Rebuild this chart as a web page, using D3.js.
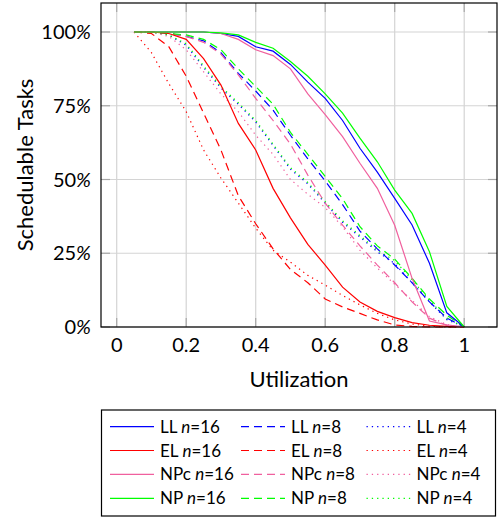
<!DOCTYPE html>
<html>
<head>
<meta charset="utf-8">
<script src="https://cdn.jsdelivr.net/npm/d3@7"></script>
<style>
    body { margin: 0; background: #fff; }
    text { font-family: Lato, "Open Sans", sans-serif; fill: #000; }
</style>
</head>
<body>
<svg id="chart" width="503" height="517"></svg>
<script>
// utilization steps
const utilization = [0.05, 0.1, 0.15, 0.2, 0.25, 0.3, 0.35, 0.4, 0.45, 0.5,
    0.55, 0.6, 0.65, 0.7, 0.75, 0.8, 0.85, 0.9, 0.95, 1.0];

// schedulable tasks in %
const llN16  = [100, 100, 100, 100, 100, 99.5, 98.5, 95, 93.5, 89, 83, 77.5, 70, 60.6, 52.5, 43.6, 34.6, 21.6, 4.8, 0];
const elN16  = [100, 100, 99.5, 97.5, 91, 82, 69, 60, 47, 37, 28, 21, 13.5, 8.5, 5.3, 3.2, 1.5, 0.6, 0.2, 0];
const npcN16 = [100, 100, 100, 100, 100, 99.5, 97.5, 94, 92, 87.5, 79, 72, 64.5, 55.5, 47, 34.5, 16.5, 2, 0.7, 0];
const npN16  = [100, 100, 100, 100, 100, 99.7, 99, 96.5, 94.5, 90, 85, 79, 72.5, 64, 56, 46.4, 38.5, 25.5, 7, 0];

const llN8  = [100, 100, 99.5, 98.5, 97, 93, 86, 80, 73.5, 65, 57, 49.5, 41.5, 32.5, 26.5, 21, 15, 8.5, 3, 0];
const elN8  = [100, 99.5, 95, 85, 72.5, 60, 44.5, 35, 26.5, 19.5, 15, 9.5, 6.8, 4.6, 2.4, 0.7, 0.2, 0, 0, 0];
const npcN8 = [100, 100, 99.5, 98.5, 96.5, 92.5, 85.5, 77.5, 70, 62, 51.5, 42, 34.5, 27.5, 21, 15, 8.5, 3, 0.5, 0];
const npN8  = [100, 100, 99.5, 99, 97.5, 94, 87.5, 81.5, 75.5, 66, 58.5, 51, 43.5, 34, 27.5, 23, 16.5, 9.5, 4, 0];

const llN4  = [100, 100, 99, 95.5, 88, 81, 75.5, 69.5, 61.5, 53.5, 48.5, 42, 35.5, 30.5, 25.5, 21.5, 15, 8.5, 2.5, 0];
const elN4  = [100, 93, 82.5, 73, 60, 50.5, 42, 33.5, 26, 22, 17.5, 14.2, 10.7, 7.5, 4.6, 2.4, 1, 0.3, 0, 0];
const npcN4 = [100, 100, 98.5, 94, 86.5, 79, 73, 65, 58.5, 50, 45, 40.5, 34, 26, 20, 14.5, 9, 3.5, 0.8, 0];
const npN4  = [100, 100, 99, 96, 88.5, 81.5, 76, 70, 62, 54, 49, 42.5, 36, 31, 26, 22.5, 16, 9, 3, 0];

const xTicks = [0, 0.2, 0.4, 0.6, 0.8, 1];
const yTicks = [0, 25, 50, 75, 100];

const colors = { LL: "#0000ff", EL: "#ff0000", NPc: "#f0609e", NP: "#00ff00" };
const dashes = { 16: null, 8: "8,5", 4: "1.3,4" };

// legend order: rows are methods, columns are n
const series = [
    { method: "LL", n: 16, values: llN16 }, { method: "LL", n: 8, values: llN8 }, { method: "LL", n: 4, values: llN4 },
    { method: "EL", n: 16, values: elN16 }, { method: "EL", n: 8, values: elN8 }, { method: "EL", n: 4, values: elN4 },
    { method: "NPc", n: 16, values: npcN16 }, { method: "NPc", n: 8, values: npcN8 }, { method: "NPc", n: 4, values: npcN4 },
    { method: "NP", n: 16, values: npN16 }, { method: "NP", n: 8, values: npN8 }, { method: "NP", n: 4, values: npN4 },
];

const svg = d3.select("#chart");
const frame = { left: 101, right: 497, top: 3, bottom: 327 };

const x = d3.scaleLinear().domain([0, 1]).range([116.7, 464.2]);
const y = d3.scaleLinear().domain([0, 100]).range([327, 32]);

// grid
const grid = svg.append("g").attr("stroke", "#d4d4d4").attr("stroke-width", 1.2);
grid.selectAll(".vx").data(xTicks).join("line")
    .attr("x1", d => x(d)).attr("x2", d => x(d))
    .attr("y1", frame.top).attr("y2", frame.bottom);
grid.selectAll(".hy").data(yTicks).join("line")
    .attr("x1", frame.left).attr("x2", frame.right)
    .attr("y1", d => y(d)).attr("y2", d => y(d));

// tick marks, inside on all four sides
const tickLen = 9;
const ticks = svg.append("g").attr("stroke", "#a8a8a8").attr("stroke-width", 1.2);
xTicks.forEach(t => {
    ticks.append("line").attr("x1", x(t)).attr("x2", x(t)).attr("y1", frame.bottom).attr("y2", frame.bottom - tickLen);
    ticks.append("line").attr("x1", x(t)).attr("x2", x(t)).attr("y1", frame.top).attr("y2", frame.top + tickLen);
});
yTicks.forEach(t => {
    ticks.append("line").attr("x1", frame.left).attr("x2", frame.left + tickLen).attr("y1", y(t)).attr("y2", y(t));
    ticks.append("line").attr("x1", frame.right).attr("x2", frame.right - tickLen).attr("y1", y(t)).attr("y2", y(t));
});

// curves
const line = d3.line()
    .x((d, i) => x(utilization[i]))
    .y(d => y(d));

// draw dotted first, solid last
const drawOrder = [4, 8, 16];
drawOrder.forEach(n => {
    series.filter(s => s.n === n).forEach(s => {
        svg.append("path")
            .attr("d", line(s.values))
            .attr("fill", "none")
            .attr("stroke", colors[s.method])
            .attr("stroke-width", 1.2)
            .attr("stroke-dasharray", dashes[s.n]);
    });
});

// frame
svg.append("rect")
    .attr("x", frame.left).attr("y", frame.top)
    .attr("width", frame.right - frame.left).attr("height", frame.bottom - frame.top)
    .attr("fill", "none").attr("stroke", "#000").attr("stroke-width", 1.2);

// tick labels
svg.append("g").selectAll("text").data(xTicks).join("text")
    .attr("x", d => x(d)).attr("y", 352)
    .attr("text-anchor", "middle").attr("font-size", 20)
    .text(d => d3.format("~g")(d));

const yLabels = svg.append("g").selectAll("text").data(yTicks).join("text")
    .attr("x", 91).attr("y", d => y(d) + 7)
    .attr("text-anchor", "end").attr("font-size", 20);
yLabels.append("tspan").text(d => d);
yLabels.append("tspan").attr("font-style", "italic").text("%");

// axis labels
svg.append("text")
    .attr("x", (frame.left + frame.right) / 2).attr("y", 387)
    .attr("text-anchor", "middle").attr("font-size", 22)
    .text("Utilization");

svg.append("text")
    .attr("transform", `translate(33,${(frame.top + frame.bottom) / 2}) rotate(-90)`)
    .attr("text-anchor", "middle").attr("font-size", 22)
    .text("Schedulable Tasks");

// legend
const legend = svg.append("g");
legend.append("rect")
    .attr("x", 101.5).attr("y", 410).attr("width", 394).attr("height", 106)
    .attr("fill", "#fff").attr("stroke", "#000").attr("stroke-width", 1.2);

const colX = [110, 241, 366.5];
const rowY = [426.7, 450.5, 474.4, 498.3];
const methods = ["LL", "EL", "NPc", "NP"];
const nValues = [16, 8, 4];

series.forEach(s => {
    const cx = colX[nValues.indexOf(s.n)];
    const cy = rowY[methods.indexOf(s.method)];
    legend.append("line")
        .attr("x1", cx).attr("x2", cx + 44)
        .attr("y1", cy).attr("y2", cy)
        .attr("stroke", colors[s.method])
        .attr("stroke-width", 1.2)
        .attr("stroke-dasharray", dashes[s.n]);

    const label = legend.append("text")
        .attr("x", cx + 50).attr("y", cy + 6)
        .attr("font-size", 17);
    label.append("tspan").text(s.method + " ");
    label.append("tspan").attr("font-style", "italic").text("n");
    label.append("tspan").text("=" + s.n);
});
</script>
</body>
</html>
